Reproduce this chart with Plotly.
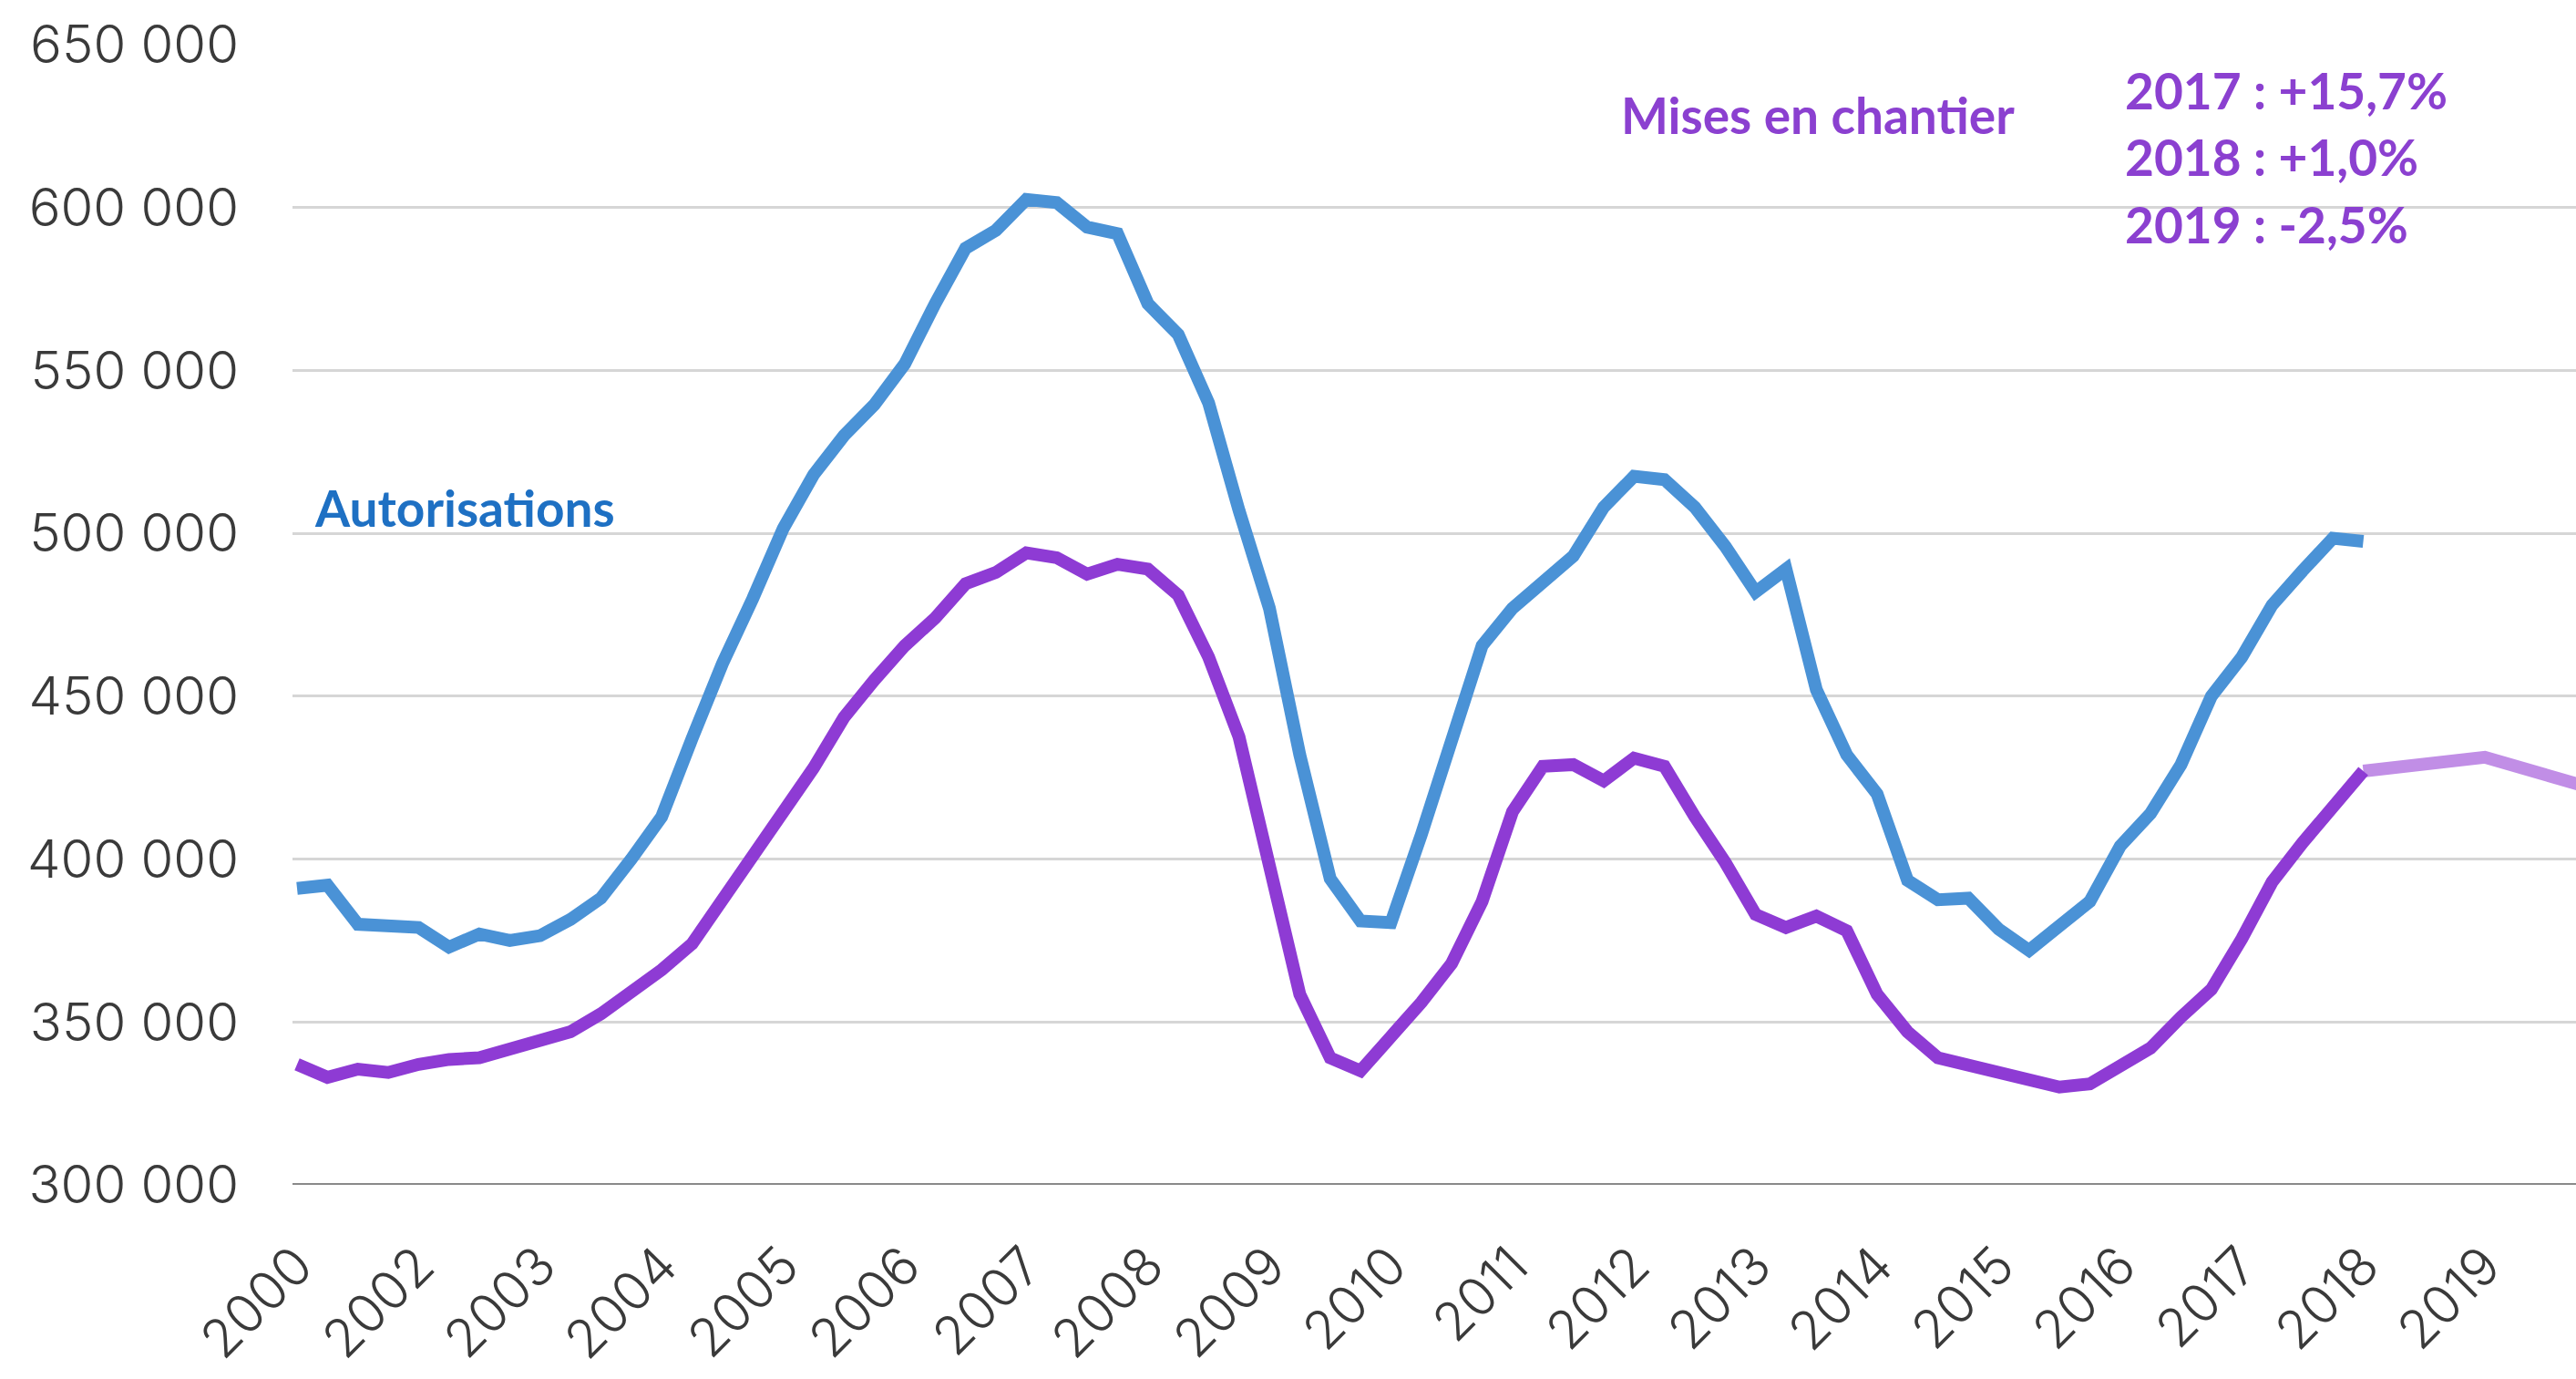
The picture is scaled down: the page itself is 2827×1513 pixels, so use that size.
import plotly.graph_objects as go

# Axis labels: one per year, every fourth quarterly point
year_labels = ["2000", "2002", "2003", "2004", "2005", "2006", "2007", "2008", "2009",
               "2010", "2011", "2012", "2013", "2014", "2015", "2016", "2017", "2018", "2019"]
points_per_label = 4

# Logements autorisés (cumul sur 12 mois), points trimestriels
autorisations = [
    391000, 392000, 380000, 379500, 379000, 373000, 377000, 375000, 376500, 381500,
    388000, 400000, 413000, 437000, 460000, 480000, 501500, 518000, 530000, 539500,
    552000, 570500, 587500, 593000, 602500, 601500, 594000, 592000, 570500, 561000,
    540000, 507000, 477000, 432000, 394000, 381000, 380500, 407500, 437000, 465500,
    477000, 484500, 493000, 508000, 517500, 516500, 508000, 496000, 482000, 489000,
    452000, 432000, 420000, 393500, 387500, 388000, 378500, 372000, 379500, 387000,
    404000, 414000, 429000, 450000, 462000, 478000, 488500, 498500, 497500,
]

# Logements mis en chantier (cumul sur 12 mois), points trimestriels
mises_en_chantier = [
    337000, 333000, 335500, 334500, 337000, 338500, 339000, 341500, 343500, 347000,
    352500, 359000, 366000, 374000, 388000, 400500, 414500, 428000, 443500, 455000,
    465500, 474000, 484500, 488000, 494000, 492500, 487500, 490500, 489000, 481000,
    462000, 437500, 396000, 358500, 339000, 335000, 345500, 356000, 368000, 387000,
    414500, 428500, 429000, 424000, 431000, 428500, 413000, 399000, 383000, 379000,
    382500, 378000, 358500, 347000, 339000, 336500, 334500, 332000, 330000, 331000,
    336500, 342000, 351500, 360000, 375500, 393000, 405000, 416500, 427000,
]

# Prévisions annuelles des mises en chantier (variations en %)
forecast_years = ["2017", "2018", "2019"]
forecast_growth = [15.7, 1.0, -2.5]

BLUE = "#4A92D6"
PURPLE = "#8E3BD4"
PURPLE_LIGHT = "#C18EE6"
TEXT_BLUE = "#1E70C3"
TEXT_PURPLE = "#8B40D0"
LINE_W = 14

x_main = list(range(len(autorisations)))
x_mec = list(range(len(mises_en_chantier)))

# Projection: start from the last observed value, apply the 2018 and 2019 rates
last_idx = len(mises_en_chantier) - 1
proj_x = [last_idx]
proj_y = [mises_en_chantier[-1]]
for g in forecast_growth[1:]:
    proj_x.append(proj_x[-1] + points_per_label)
    proj_y.append(proj_y[-1] * (1 + g / 100))

fig = go.Figure()
fig.add_trace(go.Scatter(x=proj_x, y=proj_y, mode="lines",
                         line=dict(color=PURPLE_LIGHT, width=LINE_W), hoverinfo="skip"))
fig.add_trace(go.Scatter(x=x_main, y=autorisations, mode="lines",
                         line=dict(color=BLUE, width=LINE_W)))
fig.add_trace(go.Scatter(x=x_mec, y=mises_en_chantier, mode="lines",
                         line=dict(color=PURPLE, width=LINE_W)))

tick_font = dict(family="Inter", size=58, color="#3a3a3a", weight=300)
label_font = "Lato"

fig.update_layout(
    width=2827, height=1513,
    margin=dict(l=321, r=0, t=49, b=213),
    paper_bgcolor="white", plot_bgcolor="white",
    showlegend=False,
    xaxis=dict(
        range=[-0.15, 75.0],
        tickvals=[k * points_per_label for k in range(len(year_labels))],
        ticktext=year_labels,
        tickangle=-45,
        tickfont=tick_font,
        showgrid=False, zeroline=False,
        showline=False, ticks="",
        ticklabelstandoff=42,
        automargin=False,
    ),
    yaxis=dict(
        range=[300000, 650000],
        tickvals=list(range(300000, 650001, 50000)),
        ticktext=[f"{v // 1000} 000" for v in range(300000, 650001, 50000)],
        tickfont=tick_font,
        showgrid=True, gridcolor="#d6d6d6", gridwidth=3,
        zeroline=False, showline=False, ticks="",
        ticklabelstandoff=58,
        automargin=False,
    ),
    shapes=[dict(type="line", xref="paper", yref="y", x0=0, x1=1, y0=300000, y1=300000,
                 line=dict(color="#8a8a8a", width=4), layer="below")],
)

fig.add_annotation(x=0.5, y=508000, xref="x", yref="y", text="<b>Autorisations</b>",
                   showarrow=False, xanchor="left", yanchor="middle",
                   font=dict(family=label_font, size=55, color=TEXT_BLUE))
fig.add_annotation(x=43.5, y=628500, xref="x", yref="y", text="<b>Mises en chantier</b>",
                   showarrow=False, xanchor="left", yanchor="middle",
                   font=dict(family=label_font, size=55, color=TEXT_PURPLE))

line_y = [636000, 615500, 595000]
for yr, g, yy in zip(forecast_years, forecast_growth, line_y):
    txt = f"{yr} : {g:+.1f}%".replace(".", ",")
    fig.add_annotation(x=60.1, y=yy, xref="x", yref="y", text=f"<b>{txt}</b>",
                       showarrow=False, xanchor="left", yanchor="middle",
                       font=dict(family=label_font, size=55, color=TEXT_PURPLE))

fig.write_html("out.html")
